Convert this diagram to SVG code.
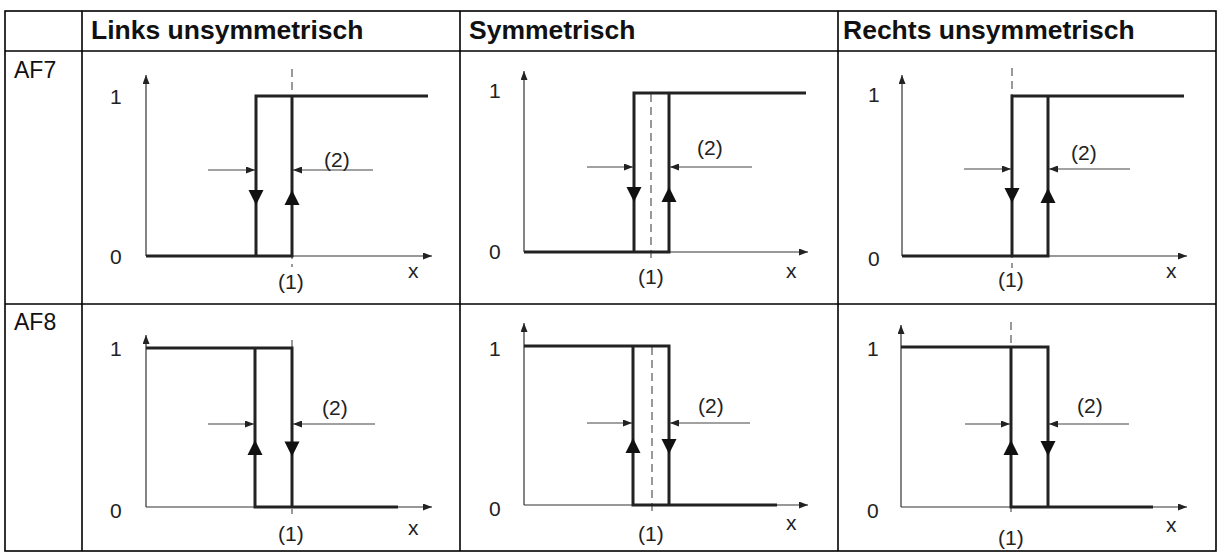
<svg xmlns="http://www.w3.org/2000/svg" xmlns:xlink="http://www.w3.org/1999/xlink" width="1223" height="552" viewBox="0 0 1223 552">
<style>
.grid{stroke:#000;stroke-width:1.6;fill:none}
.hdr{font-family:"Liberation Sans",Arial,sans-serif;font-weight:bold;font-size:26.5px;fill:#111}
.row{font-family:"Liberation Sans",Arial,sans-serif;font-size:23px;fill:#111}
.lbl{font-family:"Liberation Sans",Arial,sans-serif;font-size:21px;fill:#222}
.axis{stroke:#333;stroke-width:1.2;fill:none;marker-end:url(#ah)}
.dim{stroke:#444;stroke-width:1.1;fill:none;marker-end:url(#ah)}
.curve{stroke:#222;stroke-width:3;fill:none;stroke-linejoin:miter;stroke-linecap:butt}
.dash{stroke:#555;stroke-width:1.2;stroke-dasharray:8,5;fill:none}
.tri{fill:#111}
</style>
<defs>
<marker id="ah" markerWidth="9" markerHeight="7" refX="9" refY="3.5" orient="auto" markerUnits="userSpaceOnUse">
<path d="M0,0 L9,3.5 L0,7 z" fill="#222"/>
</marker>
<path id="tdn" d="M-7.5,-7.5 L7.5,-7.5 L0,7.5 z"/>
<path id="tup" d="M-7.5,7.5 L7.5,7.5 L0,-7.5 z"/>
</defs>

<g id="table">
<rect class="grid" x="5" y="11" width="1211" height="540"/>
<line class="grid" x1="5" y1="51" x2="1216" y2="51"/>
<line class="grid" x1="5" y1="304" x2="1216" y2="304"/>
<line class="grid" x1="82" y1="11" x2="82" y2="551"/>
<line class="grid" x1="460" y1="11" x2="460" y2="551"/>
<line class="grid" x1="838" y1="11" x2="838" y2="551"/>
</g>

<g id="headers">
<text class="hdr" x="91" y="39">Links unsymmetrisch</text>
<text class="hdr" x="469" y="39">Symmetrisch</text>
<text class="hdr" x="843" y="39">Rechts unsymmetrisch</text>
<text class="row" x="14" y="78">AF7</text>
<text class="row" x="14" y="330">AF8</text>
</g>

<!-- Row 1, col 1 -->
<g id="af7-links">
<line class="axis" x1="146" y1="256" x2="146" y2="75"/>
<line class="axis" x1="146" y1="256" x2="432" y2="256"/>
<line class="dash" x1="292" y1="69" x2="292" y2="267"/>
<path class="curve" d="M146,256 H292 V96"/>
<path class="curve" d="M428,96 H256 V256"/>
<use href="#tdn" class="tri" x="256" y="197.5"/>
<use href="#tup" class="tri" x="292" y="197.5"/>
<line class="dim" x1="208" y1="170" x2="255" y2="170"/>
<line class="dim" x1="373" y1="170" x2="293" y2="170"/>
<text class="lbl" x="110" y="104">1</text>
<text class="lbl" x="110" y="264">0</text>
<text class="lbl" x="324" y="167">(2)</text>
<text class="lbl" x="278" y="289">(1)</text>
<text class="lbl" x="408" y="278">x</text>
</g>

<!-- Row 1, col 2 -->
<g id="af7-symmetrisch">
<line class="axis" x1="524" y1="252" x2="524" y2="71"/>
<line class="axis" x1="524" y1="252" x2="808" y2="252"/>
<line class="dash" x1="651" y1="94" x2="651" y2="263"/>
<path class="curve" d="M524,252 H669 V93"/>
<path class="curve" d="M806,93 H634 V252"/>
<use href="#tdn" class="tri" x="634" y="194.5"/>
<use href="#tup" class="tri" x="669" y="194.5"/>
<line class="dim" x1="587" y1="167" x2="633" y2="167"/>
<line class="dim" x1="752" y1="167" x2="670" y2="167"/>
<text class="lbl" x="489" y="98">1</text>
<text class="lbl" x="489" y="259">0</text>
<text class="lbl" x="697" y="155">(2)</text>
<text class="lbl" x="638" y="284">(1)</text>
<text class="lbl" x="786" y="278">x</text>
</g>

<!-- Row 1, col 3 -->
<g id="af7-rechts">
<line class="axis" x1="902" y1="256" x2="902" y2="75"/>
<line class="axis" x1="902" y1="256" x2="1187" y2="256"/>
<line class="dash" x1="1012" y1="68" x2="1012" y2="268"/>
<path class="curve" d="M902,256 H1048 V96"/>
<path class="curve" d="M1184,96 H1012 V256"/>
<use href="#tdn" class="tri" x="1012" y="195.5"/>
<use href="#tup" class="tri" x="1048" y="195.5"/>
<line class="dim" x1="964" y1="169" x2="1011" y2="169"/>
<line class="dim" x1="1130" y1="169" x2="1049" y2="169"/>
<text class="lbl" x="868" y="102">1</text>
<text class="lbl" x="868" y="266">0</text>
<text class="lbl" x="1071" y="160">(2)</text>
<text class="lbl" x="998" y="287">(1)</text>
<text class="lbl" x="1166" y="278">x</text>
</g>

<!-- Row 2, col 1 -->
<g id="af8-links">
<line class="axis" x1="146" y1="507" x2="146" y2="335"/>
<line class="axis" x1="146" y1="507" x2="432" y2="507"/>
<line class="dash" x1="292" y1="340" x2="292" y2="514"/>
<path class="curve" d="M146,348 H292 V507"/>
<path class="curve" d="M398,507 H255 V348"/>
<use href="#tup" class="tri" x="255" y="447.5"/>
<use href="#tdn" class="tri" x="292" y="449"/>
<line class="dim" x1="208" y1="424" x2="254" y2="424"/>
<line class="dim" x1="375" y1="424" x2="293" y2="424"/>
<text class="lbl" x="110" y="356">1</text>
<text class="lbl" x="110" y="518">0</text>
<text class="lbl" x="322" y="415">(2)</text>
<text class="lbl" x="278" y="541">(1)</text>
<text class="lbl" x="408" y="535">x</text>
</g>

<!-- Row 2, col 2 -->
<g id="af8-symmetrisch">
<line class="axis" x1="524" y1="505" x2="524" y2="323"/>
<line class="axis" x1="524" y1="505" x2="808" y2="505"/>
<line class="dash" x1="652" y1="347" x2="652" y2="513"/>
<path class="curve" d="M524,346 H669 V505"/>
<path class="curve" d="M777,505 H633 V346"/>
<use href="#tup" class="tri" x="633" y="445.5"/>
<use href="#tdn" class="tri" x="669" y="446.5"/>
<line class="dim" x1="587" y1="423" x2="632" y2="423"/>
<line class="dim" x1="750" y1="423" x2="670" y2="423"/>
<text class="lbl" x="489" y="356">1</text>
<text class="lbl" x="489" y="516">0</text>
<text class="lbl" x="698" y="413">(2)</text>
<text class="lbl" x="638" y="541">(1)</text>
<text class="lbl" x="786" y="530">x</text>
</g>

<!-- Row 2, col 3 -->
<g id="af8-rechts">
<line class="axis" x1="901" y1="507" x2="901" y2="325"/>
<line class="axis" x1="901" y1="507" x2="1187" y2="507"/>
<line class="dash" x1="1011" y1="322" x2="1011" y2="517"/>
<path class="curve" d="M901,347 H1048 V507"/>
<path class="curve" d="M1153,507 H1011 V347"/>
<use href="#tup" class="tri" x="1011" y="447.5"/>
<use href="#tdn" class="tri" x="1048" y="448.5"/>
<line class="dim" x1="965" y1="424" x2="1010" y2="424"/>
<line class="dim" x1="1129" y1="424" x2="1049" y2="424"/>
<text class="lbl" x="867" y="356">1</text>
<text class="lbl" x="867" y="518">0</text>
<text class="lbl" x="1077" y="413">(2)</text>
<text class="lbl" x="998" y="545">(1)</text>
<text class="lbl" x="1166" y="532">x</text>
</g>
</svg>
